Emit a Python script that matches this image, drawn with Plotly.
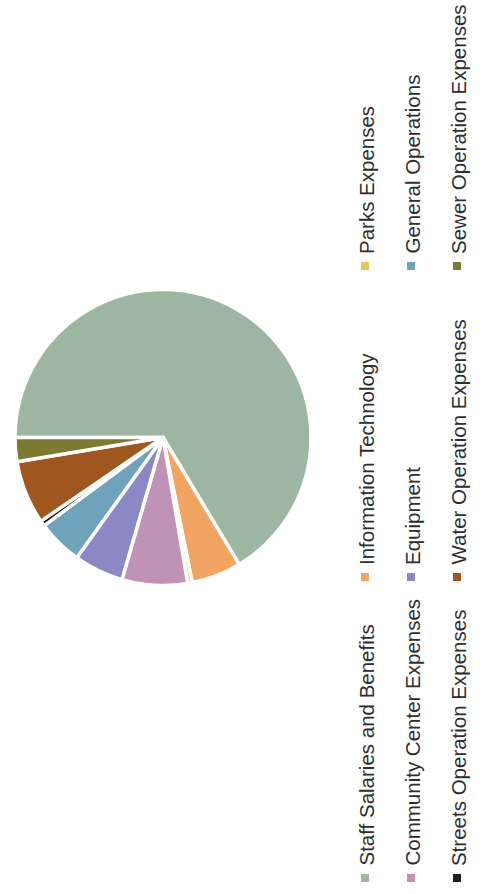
import plotly.graph_objects as go

# Expense categories, shares (percent of total) and slice colours
categories = [
    "Staff Salaries and Benefits",
    "Information Technology",
    "Parks Expenses",
    "Community Center Expenses",
    "Equipment",
    "General Operations",
    "Streets Operation Expenses",
    "Water Operation Expenses",
    "Sewer Operation Expenses",
]
shares = [66.0, 5.4, 0.5, 7.1, 5.4, 4.9, 0.6, 6.9, 2.6]
colors = [
    "#9db6a1", "#f2a563", "#e6c84c", "#c092b6", "#8b88c6",
    "#6fa2bb", "#1c1c1c", "#a0561f", "#7b7a30",
]

W, H = 480, 894
FONT = "Liberation Sans"

fig = go.Figure(
    go.Pie(
        labels=categories,
        values=shares,
        sort=False,
        direction="clockwise",
        rotation=-90,
        marker=dict(colors=colors, line=dict(color="white", width=3.5)),
        textinfo="none",
        hoverinfo="label+percent",
        domain=dict(x=[15 / W, 311 / W], y=[(H - 586) / H, (H - 289) / H]),
    )
)

# Rotated legend: three columns of three entries, read bottom to top
col_x = [365, 411, 457]
row_y = [878, 577, 266]
shapes, annotations = [], []
for i, (name, col) in enumerate(zip(categories, colors)):
    c, r = divmod(i, 3)
    mx, my = col_x[c], row_y[r]
    shapes.append(dict(
        type="rect", xref="paper", yref="paper",
        x0=(mx - 4) / W, x1=(mx + 4) / W,
        y0=(H - my - 4) / H, y1=(H - my + 4) / H,
        fillcolor=col, line=dict(width=0),
    ))
    annotations.append(dict(
        text=name, textangle=-90, showarrow=False,
        xref="paper", yref="paper",
        x=(mx + 1) / W, y=(H - my + 10) / H,
        xanchor="center", yanchor="bottom",
        font=dict(family=FONT, size=20.5, color="#2e2e2e"),
    ))

fig.update_layout(
    width=W, height=H,
    margin=dict(l=0, r=0, t=0, b=0),
    paper_bgcolor="white", plot_bgcolor="white",
    showlegend=False,
    shapes=shapes, annotations=annotations,
)

fig.write_html("out.html")
